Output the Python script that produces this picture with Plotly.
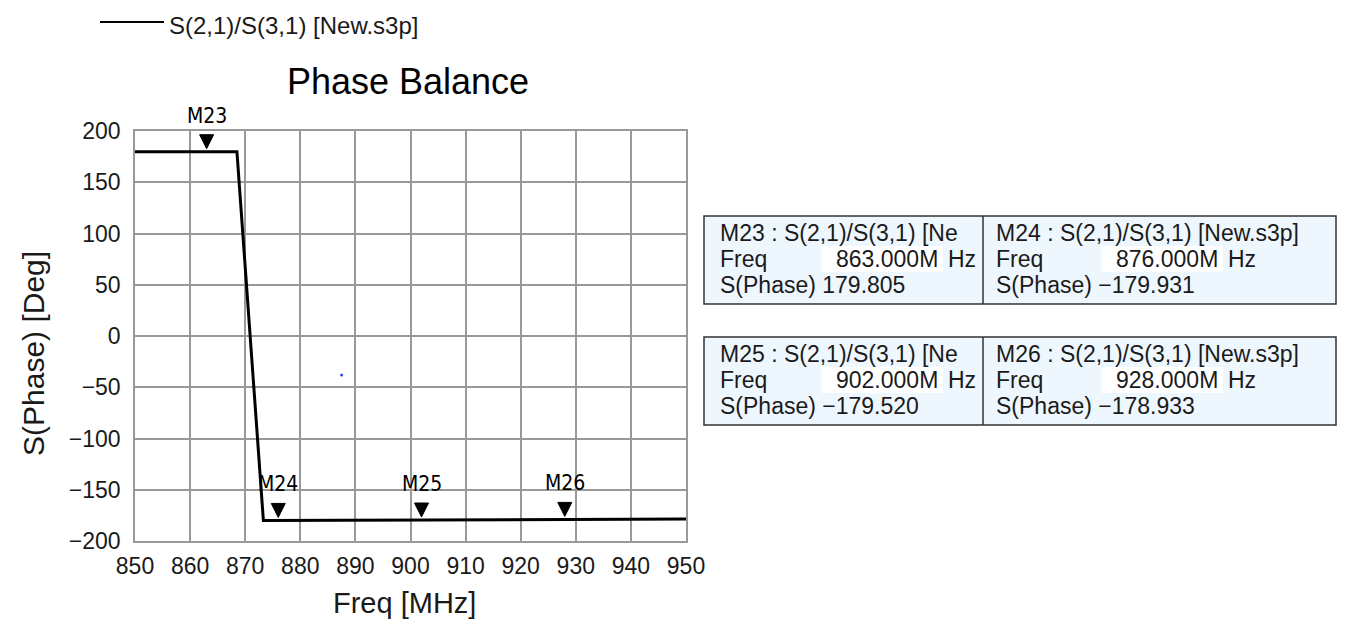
import plotly.graph_objects as go

# ---- data ----
trace_name = "S(2,1)/S(3,1) [New.s3p]"
freq = [850, 863, 868.5, 873.3, 876, 902, 928, 950]
phase = [179.8, 179.805, 179.8, -180.0, -179.931, -179.52, -178.933, -178.6]

marker_names = ["M23", "M24", "M25", "M26"]
marker_freq = [863, 876, 902, 928]
marker_phase = [179.805, -179.931, -179.520, -178.933]

stray_x = [887.5]
stray_y = [-38]

x_ticks = [850, 860, 870, 880, 890, 900, 910, 920, 930, 940, 950]
y_ticks = [-200, -150, -100, -50, 0, 50, 100, 150, 200]

# ---- layout geometry (screen pixels; page body has an 8px margin) ----
OFF = 8
W, H = 1346 - OFF, 631 - OFF
L, R, T, B = 135, 686, 131, 541
FONT = "Liberation Sans, Arial, sans-serif"
TXT = "#1a1a1a"

def px(x):
    return (x - L) / (R - L)

def py(y):
    return (B - y) / (B - T)

fig = go.Figure()
fig.add_trace(go.Scatter(x=freq, y=phase, mode="lines", name=trace_name,
                         line=dict(color="black", width=3), showlegend=False))
fig.add_trace(go.Scatter(x=stray_x, y=stray_y, mode="markers",
                         marker=dict(color="#3344ff", size=3), showlegend=False))

annotations = []
shapes = []

# marker triangles and labels
for n, f, p in zip(marker_names, marker_freq, marker_phase):
    shapes.append(dict(type="path", xref="x", yref="y", xsizemode="pixel", ysizemode="pixel",
                       xanchor=f, yanchor=p, path="M -7 17 L 7 17 L 0 3 Z",
                       fillcolor="black", line=dict(color="black", width=1)))
    annotations.append(dict(x=f, y=p, xref="x", yref="y", text=n, showarrow=False,
                            yanchor="bottom", yshift=22,
                            font=dict(family="Liberation Sans Narrow, DejaVu Sans Condensed",
                                      size=21, color="black")))

# manual legend
shapes.append(dict(type="line", xref="paper", yref="paper", x0=px(100), x1=px(164),
                   y0=py(22), y1=py(22), line=dict(color="black", width=2)))
annotations.append(dict(x=px(167), y=py(25), xref="paper", yref="paper", text=trace_name,
                        showarrow=False, xanchor="left", yanchor="middle",
                        font=dict(family=FONT, size=24, color=TXT)))

# axis titles
annotations.append(dict(x=px(404), y=py(603), xref="paper", yref="paper", text="Freq [MHz]",
                        showarrow=False, xanchor="center", yanchor="middle",
                        font=dict(family=FONT, size=29, color=TXT)))
annotations.append(dict(x=px(33), y=py(354), xref="paper", yref="paper", text="S(Phase) [Deg]",
                        showarrow=False, xanchor="center", yanchor="middle", textangle=-90,
                        font=dict(family=FONT, size=30, color=TXT)))

# marker tables
def cell_text(name):
    return f"{name} : {trace_name}"

boxes = [(216, 304, 0, 1), (337, 425, 2, 3)]
for (y0, y1, i, j) in boxes:
    shapes.append(dict(type="rect", xref="paper", yref="paper", x0=px(704), x1=px(1336),
                       y0=py(y1), y1=py(y0), fillcolor="#eef6fe",
                       line=dict(color="#333", width=1.5)))
    shapes.append(dict(type="line", xref="paper", yref="paper", x0=px(983), x1=px(983),
                       y0=py(y1), y1=py(y0), line=dict(color="#333", width=1.5)))
    rows = [y0 + 17, y0 + 43, y0 + 69]
    for k, (cx, vend, clip) in zip([i, j], [(718, 941, True), (994, 1221, False)]):
        t0 = cell_text(marker_names[k])
        if clip:
            t0 = t0[:t0.index("[") + 3]
        # white value field
        shapes.append(dict(type="rect", xref="paper", yref="paper", x0=px(vend - 120),
                           x1=px(vend + 2), y0=py(rows[1] + 13), y1=py(rows[1] - 13),
                           fillcolor="white", line=dict(width=0)))
        items = [
            (cx, rows[0], t0, "left"),
            (cx, rows[1], "Freq", "left"),
            (vend - 1, rows[1], f"{marker_freq[k]:.3f}M", "right"),
            (vend + 5, rows[1], "Hz", "left"),
            (cx, rows[2], f"S(Phase) {marker_phase[k]:.3f}".replace("-", "−"), "left"),
        ]
        for (ax, ay, txt, anc) in items:
            annotations.append(dict(x=px(ax), y=py(ay), xref="paper", yref="paper", text=txt,
                                    showarrow=False, xanchor=anc, yanchor="middle",
                                    font=dict(family=FONT, size=23, color=TXT)))

fig.update_layout(
    width=W, height=H,
    margin=dict(l=L - OFF, r=W - (R - OFF), t=T - OFF, b=H - (B - OFF), autoexpand=False),
    paper_bgcolor="white", plot_bgcolor="white",
    title=dict(text="Phase Balance", x=px(408), xref="paper", xanchor="center",
               y=1 - (81 - OFF) / H, yanchor="middle",
               font=dict(family=FONT, size=36, color="black")),
    font=dict(family=FONT, size=23, color=TXT),
    xaxis=dict(range=[850, 950], tickvals=x_ticks, showgrid=True, gridcolor="#999",
               gridwidth=1.5, zeroline=False, showline=True, linecolor="#999", linewidth=1.5,
               mirror=True, ticks="", ticklabelstandoff=4, tickfont=dict(size=23)),
    yaxis=dict(range=[-200, 200], tickvals=y_ticks, showgrid=True, gridcolor="#999",
               gridwidth=1.5, zeroline=False, showline=True, linecolor="#999", linewidth=1.5,
               mirror=True, ticks="", ticklabelstandoff=8, tickfont=dict(size=23)),
    annotations=annotations, shapes=shapes,
)

fig.write_html("out.html")
